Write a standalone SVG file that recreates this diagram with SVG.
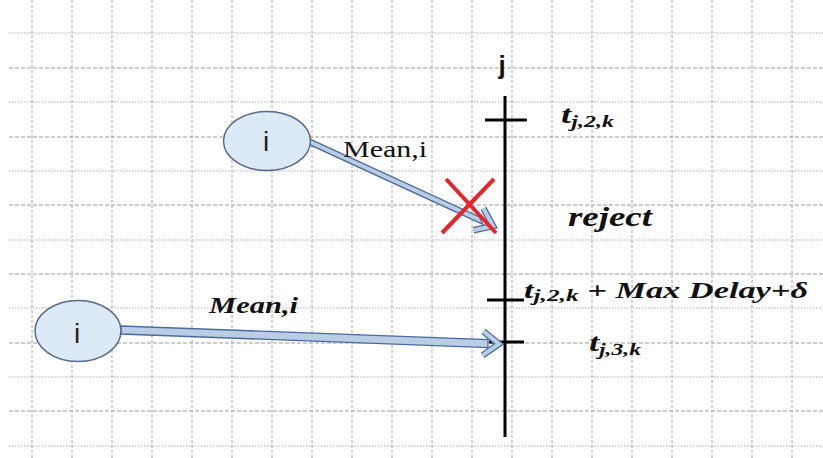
<svg xmlns="http://www.w3.org/2000/svg" width="823" height="458" viewBox="0 0 823 458">
<style>
.gv{stroke:#a3a3a3;stroke-width:1;stroke-dasharray:3,2;fill:none}
.gd{stroke:#9a9a9a;stroke-width:1;stroke-dasharray:4,2;fill:none}
.gt{stroke:#b0b0b0;stroke-width:1;stroke-dasharray:1.5,1.5;fill:none}
.node ellipse{fill:#dce9f6;stroke:#56698a;stroke-width:1.5}
.nlabel{font-family:"Liberation Sans",Arial,sans-serif;font-size:28px;fill:#222;text-anchor:middle}
.shaft{fill:#b9cde5;stroke:#4a6a9a;stroke-width:1.3}
.headO{fill:none;stroke:#4a6a9a;stroke-width:6.5;stroke-linejoin:miter;stroke-linecap:butt}
.headI{fill:none;stroke:#b9cde5;stroke-width:4;stroke-linejoin:miter;stroke-linecap:butt}
.axis{stroke:#000;stroke-width:3;fill:none}
.tick{stroke:#000;stroke-width:3;fill:none}
.bi{font-family:"Liberation Serif","Times New Roman",serif;font-style:italic;font-weight:bold;fill:#111}
.rm{font-family:"Liberation Serif","Times New Roman",serif;fill:#111}
.sub{font-size:17px}
.cross{stroke:#e8232a;stroke-width:4;stroke-linecap:butt}
</style>
<rect width="823" height="458" fill="#fff"/>
<g id="grid">
<path class="gv" d="M32 0V458M72 0V458M112 0V458M152 0V458M192 0V458M232 0V458M272 0V458M312 0V458M352 0V458M392 0V458M432 0V458M472 0V458M512 0V458M552 0V458M592 0V458M632 0V458M672 0V458M712 0V458M752 0V458M792 0V458"/>
<path class="gt" d="M9 33H823M9 102H823M9 171H823M9 240H823M9 308H823M9 377H823M9 446H823"/>
<path class="gd" d="M9 68H823M9 137H823M9 205H823M9 274H823M9 343H823M9 411H823"/>
</g>
<g id="timeline-j">
<line class="axis" x1="505" y1="96" x2="505" y2="437"/>
<line class="tick" x1="485" y1="120" x2="527" y2="120"/>
<line class="tick" x1="487" y1="300" x2="524" y2="300"/>
<line class="tick" x1="489" y1="342" x2="524" y2="342"/>
<text x="502" y="74" font-family="'Liberation Sans',Arial,sans-serif" font-weight="bold" font-size="26" text-anchor="middle" fill="#111">j</text>
</g>
<g id="connectors">
<g id="arrow-upper">
<polygon class="shaft" points="306.3,137.4 309.7,144.7 482.9,224.3 479.5,217.0"/>
<polyline class="headO" points="483.5,208.4 493,226 473.5,230.2"/>
<polyline class="headI" points="483.5,208.4 493,226 473.5,230.2"/>
</g>
<g id="arrow-lower">
<polygon class="shaft" points="121,326 121,334 488,347.6 488,339.6"/>
<polyline class="headO" points="483.4,331.4 499,344 482.6,355.4"/>
<polyline class="headI" points="483.4,331.4 499,344 482.6,355.4"/>
</g>
<text class="rm" x="343" y="157" font-size="24" textLength="84" lengthAdjust="spacingAndGlyphs">Mean,i</text>
<text class="bi" x="209" y="313" font-size="23" textLength="89" lengthAdjust="spacingAndGlyphs">Mean,i</text>
<g id="reject-mark">
<line class="cross" x1="446" y1="179" x2="496" y2="233"/>
<line class="cross" x1="494" y1="179" x2="442" y2="233"/>
</g>
</g>
<g id="node-i-upper" class="node">
<ellipse cx="267" cy="141" rx="43.5" ry="29.5"/>
<text class="nlabel" x="266" y="151">i</text>
</g>
<g id="node-i-lower" class="node">
<ellipse cx="78" cy="331" rx="43" ry="30.5"/>
<text class="nlabel" x="77" y="343">i</text>
</g>
<g id="labels">
<text class="bi" x="561" y="123" font-size="26" textLength="53" lengthAdjust="spacingAndGlyphs">t<tspan class="sub" dy="4">j,2,k</tspan></text>
<text class="bi" x="568" y="226" font-size="28" textLength="84" lengthAdjust="spacingAndGlyphs">reject</text>
<text class="bi" x="524" y="298" font-size="23" textLength="284" lengthAdjust="spacingAndGlyphs">t<tspan class="sub" dy="3">j,2,k</tspan><tspan dy="-3"> + Max Delay+δ</tspan></text>
<text class="bi" x="589" y="351" font-size="26" textLength="52" lengthAdjust="spacingAndGlyphs">t<tspan class="sub" dy="4">j,3,k</tspan></text>
</g>
</svg>
